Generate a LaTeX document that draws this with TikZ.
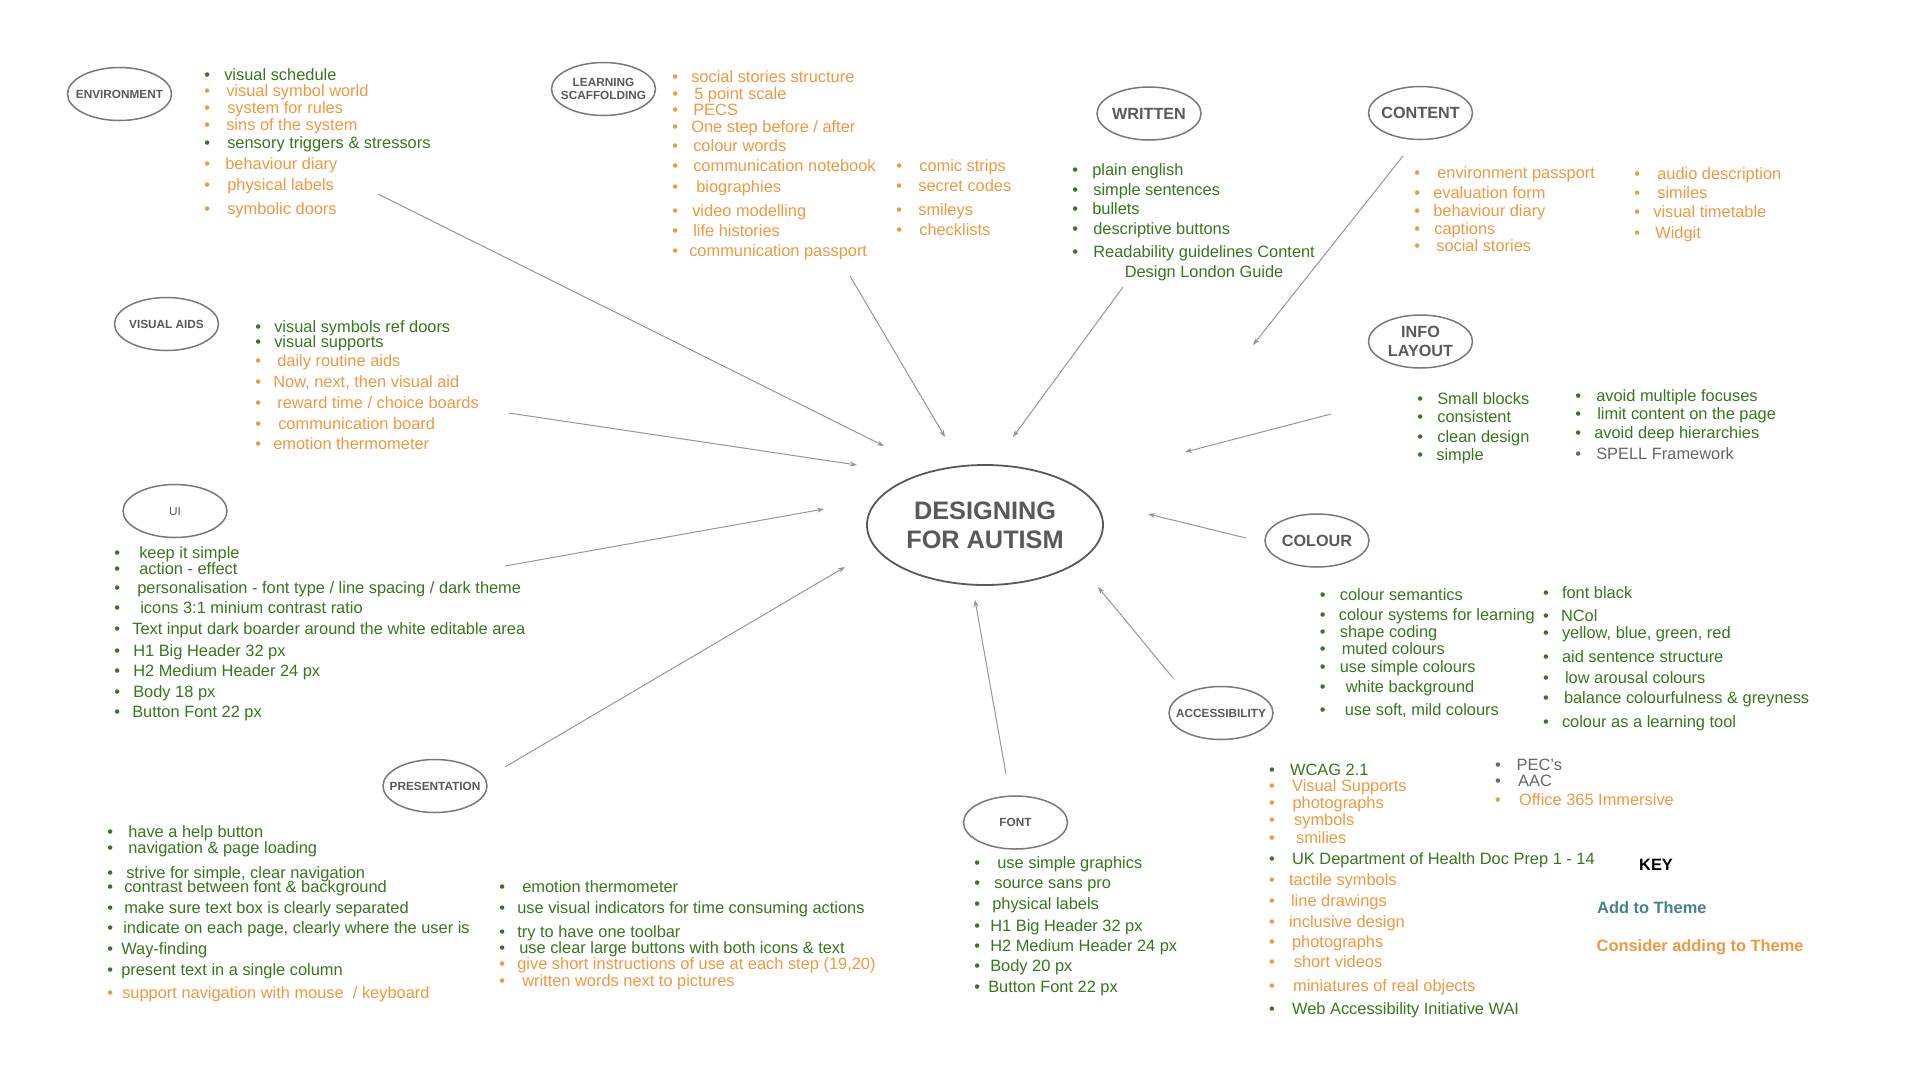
\documentclass[tikz,border=0pt]{standalone}
\usepackage{fontspec}
\setmainfont{Liberation Sans}
\usepackage{xcolor}
\usepackage{tikz}
\usetikzlibrary{positioning, shapes.geometric, arrows.meta}
\definecolor{themegreen}{RGB}{56,118,29}
\definecolor{considerorange}{RGB}{238,152,66}
\definecolor{addteal}{RGB}{69,129,142}
\definecolor{notegray}{RGB}{102,102,102}
\definecolor{labelgray}{RGB}{89,89,89}
\definecolor{ringgray}{RGB}{120,120,120}
\definecolor{arrowgray}{RGB}{150,150,150}
\newcommand{\itemG}[2][0]{\textcolor{themegreen}{\makebox[20pt][l]{\textbullet}\hspace{#1pt}#2}}
\newcommand{\itemO}[2][0]{\textcolor{considerorange}{\makebox[20pt][l]{\textbullet}\hspace{#1pt}#2}}
\newcommand{\itemY}[2][0]{\textcolor{notegray}{\makebox[20pt][l]{\textbullet}\hspace{#1pt}#2}}

\begin{document}
\begin{tikzpicture}[
  x=1pt, y=-1pt, >={Stealth[length=7pt,width=5pt]},
  hub/.style={ellipse, draw=labelgray, line width=1.8pt,
    minimum width=236pt, minimum height=120pt, inner sep=0pt,
    align=center, text=labelgray,
    font=\bfseries\fontsize{25.3}{29}\selectfont},
  theme/.style={ellipse, draw=ringgray, line width=1.5pt,
    minimum width=104pt, minimum height=53pt,
    inner xsep=-10pt, inner ysep=0pt,
    align=center, text=labelgray,
    font=\bfseries\fontsize{11.8}{12.5}\selectfont},
  bigtheme/.style={theme, font=\bfseries\fontsize{16.2}{19}\selectfont},
  lst/.style={anchor=north west, inner sep=0pt, align=left,
    font=\fontsize{16.4}{16.7}\selectfont},
  keytxt/.style={anchor=base west, inner sep=0pt,
    font=\bfseries\fontsize{16.4}{16.7}\selectfont},
  conn/.style={->, draw=arrowgray, line width=1pt}
]
\useasboundingbox (0,0) rectangle (1920,1080);
\fill[white] (0,0) rectangle (1920,1080);

\node[hub] (hub) at (985,525) {DESIGNING\\FOR AUTISM};

\node[theme] (env) at (119.5,94) {ENVIRONMENT};
\node[theme] (learn) at (603.5,89) {LEARNING\\SCAFFOLDING};
\node[bigtheme] (written) at (1149,113.5) {WRITTEN};
\node[bigtheme] (content) at (1420.5,113) {CONTENT};
\node[bigtheme] (info) at (1420.5,341.5) {INFO\\LAYOUT};
\node[theme] (visual) at (166.5,324) {VISUAL AIDS};
\node[theme, font=\fontsize{11.8}{12.5}\selectfont] (ui) at (175,511) {UI};
\node[bigtheme] (colour) at (1317,540.5) {COLOUR};
\node[theme] (access) at (1221,713) {ACCESSIBILITY};
\node[theme] (present) at (435,786) {PRESENTATION};
\node[theme] (font) at (1015.5,822.5) {FONT};

\node[lst] (envlist) at (204.1,68.2)
  {\itemG{visual schedule}\\
   \itemO[2]{visual symbol world}\\
   \itemO[3]{system for rules}\\
   \itemO[2]{sins of the system}\\[1pt]
   \itemG[3]{sensory triggers \& stressors}\\[4.6pt]
   \itemO[1]{behaviour diary}\\[4.3pt]
   \itemO[3]{physical labels}\\[7.3pt]
   \itemO[3]{symbolic doors}};

\node[lst] (learnlist) at (672.1,70.5)
  {\itemO[-1]{social stories structure}\\
   \itemO[2]{5 point scale}\\
   \itemO[1]{PECS}\\[0.3pt]
   \itemO[-1]{One step before / after}\\[1.6pt]
   \itemO[1]{colour words}\\[4pt]
   \itemO[1]{communication notebook}\\[3.9pt]
   \itemO[4]{biographies}\\[7.7pt]
   \itemO{video modelling}\\[2.6pt]
   \itemO[1]{life histories}\\[3.3pt]
   \itemO[-3]{communication passport}};
\node[lst] (learnlist2) at (896.1,159.9)
  {\itemO[3]{comic strips}\\[3.3pt]
   \itemO[2]{secret codes}\\[6.6pt]
   \itemO[2]{smileys}\\[3.3pt]
   \itemO[3]{checklists}};

\node[lst] (writtenlist) at (1072.1,163.2)
  {\itemG{plain english}\\[3.3pt]
   \itemG[1]{simple sentences}\\[2.3pt]
   \itemG{bullets}\\[3.3pt]
   \itemG[1]{descriptive buttons}\\[6.3pt]
   \itemG[1]{\begin{tabular}[t]{@{}c@{}}Readability guidelines Content\\[3.3pt]
     Design London Guide\end{tabular}}};

\node[lst] (contentlist) at (1414.1,166.2)
  {\itemO[3]{environment passport}\\[3.3pt]
   \itemO[-1]{evaluation form}\\[1.3pt]
   \itemO[-1]{behaviour diary}\\[1.3pt]
   \itemO{captions}\\[0.3pt]
   \itemO[2]{social stories}};
\node[lst] (contentlist2) at (1634.1,167.2)
  {\itemO[3]{audio description}\\[2.3pt]
   \itemO[3]{similes}\\[2.3pt]
   \itemO[-1]{visual timetable}\\[4.3pt]
   \itemO[1]{Widgit}};

\node[lst] (infolist) at (1417.1,392.2)
  {\itemG{Small blocks}\\[1.3pt]
   \itemG{consistent}\\[3.3pt]
   \itemG{clean design}\\[1.3pt]
   \itemG[-1]{simple}};
\node[lst] (infolist2) at (1575.1,389.2)
  {\itemG[1]{avoid multiple focuses}\\[1.3pt]
   \itemG[2]{limit content on the page}\\[2.3pt]
   \itemG[-1]{avoid deep hierarchies}\\[4.3pt]
   \itemY[1]{SPELL Framework}};

\node[lst] (visuallist) at (255.1,320.2)
  {\itemG[-1]{visual symbols ref doors}\\[-1.7pt]
   \itemG[-1]{visual supports}\\[2.3pt]
   \itemO[2]{daily routine aids}\\[4.3pt]
   \itemO[-2]{Now, next, then visual aid}\\[4.3pt]
   \itemO[2]{reward time / choice boards}\\[4.3pt]
   \itemO[3]{communication board}\\[3.3pt]
   \itemO[-2]{emotion thermometer}};

\node[lst] (uilist) at (114.1,546.2)
  {\itemG[5]{keep it simple}\\[-0.7pt]
   \itemG[5]{action - effect}\\[2.3pt]
   \itemG[3]{personalisation - font type / line spacing / dark theme}\\[3.3pt]
   \itemG[6]{icons 3:1 minium contrast ratio}\\[4.3pt]
   \itemG[-2]{Text input dark boarder around the white editable area}\\[5.3pt]
   \itemG[-1]{H1 Big Header 32 px}\\[3.3pt]
   \itemG[-1]{H2 Medium Header 24 px}\\[4.3pt]
   \itemG[-1]{Body 18 px}\\[3.3pt]
   \itemG[-2]{Button Font 22 px}};

\node[lst] (presentlist) at (107.1,825.2)
  {\itemG[1]{have a help button}\\[-0.7pt]
   \itemG[1]{navigation \& page loading}\\[8.3pt]
   \itemG[-1]{strive for simple, clear navigation}\\[-2.7pt]
   \itemG[-3]{contrast between font \& background}\\[4.3pt]
   \itemG[-3]{make sure text box is clearly separated}\\[3.3pt]
   \itemG[-4]{indicate on each page, clearly where the user is}\\[4.3pt]
   \itemG[-6]{Way-finding}\\[4.3pt]
   \itemG[-6]{present text in a single column}\\[6.3pt]
   \itemO[-5]{support navigation with mouse~ / keyboard}};
\node[lst] (presentlist2) at (499.1,880.2)
  {\itemG[3]{emotion thermometer}\\[4.3pt]
   \itemG[-2]{use visual indicators for time consuming actions}\\[7.3pt]
   \itemG[-2]{try to have one toolbar}\\[-0.7pt]
   \itemG{use clear large buttons with both icons \& text}\\[-0.7pt]
   \itemO[-2]{give short instructions of use at each step (19,20)}\\[0.3pt]
   \itemO[3]{written words next to pictures}};

\node[lst] (fontlist) at (974.1,856.8)
  {\itemG[3]{use simple graphics}\\[2.7pt]
   \itemG{source sans pro}\\[4.3pt]
   \itemG[-2]{physical labels}\\[5.3pt]
   \itemG[-4]{H1 Big Header 32 px}\\[3.3pt]
   \itemG[-4]{H2 Medium Header 24 px}\\[3.3pt]
   \itemG[-4]{Body 20 px}\\[4.3pt]
   \itemG[-6]{Button Font 22 px}};

\node[lst] (colourlist) at (1319.6,588.2)
  {\itemG{colour semantics}\\[3.3pt]
   \itemG[-1]{colour systems for learning}\\[0.3pt]
   \itemG{shape coding}\\[0.3pt]
   \itemG[2]{muted colours}\\[1.3pt]
   \itemG{use simple colours}\\[3.3pt]
   \itemG[6]{white background}\\[6.3pt]
   \itemG[5]{use soft, mild colours}};
\node[lst] (colourlist2) at (1542.8,586.2)
  {\itemG[-1]{font black}\\[6.3pt]
   \itemG[-2]{NCol}\\[0.3pt]
   \itemG[-1]{yellow, blue, green, red}\\[7.3pt]
   \itemG[-1]{aid sentence structure}\\[4.3pt]
   \itemG[2]{low arousal colours}\\[3.3pt]
   \itemG[1]{balance colourfulness \& greyness}\\[7.3pt]
   \itemG[-1]{colour as a learning tool}};

\node[lst] (acclist) at (1268.9,764.2)
  {\itemG[1]{WCAG 2.1}\\[-0.7pt]
   \itemO[3]{Visual Supports}\\[0.3pt]
   \itemO[3.5]{photographs}\\[0.3pt]
   \itemO[5]{symbols}\\[1.3pt]
   \itemO[7]{smilies}\\[4.3pt]
   \itemG[3]{UK Department of Health Doc Prep 1 - 14}\\[4.3pt]
   \itemO{tactile symbols}\\[4.3pt]
   \itemO[2]{line drawings}\\[4.3pt]
   \itemO{inclusive design}\\[3.3pt]
   \itemO[3]{photographs}\\[3.3pt]
   \itemO[4.7]{short videos}\\[7.3pt]
   \itemO[4]{miniatures of real objects}\\[6.3pt]
   \itemG[3]{Web Accessibility Initiative WAI}};
\node[lst] (acclist2) at (1495,759.2)
  {\itemY[1.5]{PEC’s}\\[-0.7pt]
   \itemY[3]{AAC}\\[2.3pt]
   \itemO[4]{Office 365 Immersive}};

\node[keytxt, text=black] (key) at (1639,870) {KEY};
\node[keytxt, text=addteal] (keyadd) at (1597,913.6) {Add to Theme};
\node[keytxt, text=considerorange] (keyconsider) at (1596.5,951) {Consider adding to Theme};

\coordinate (env-tail) at (378,194);
\coordinate (env-tip) at (884,446);
\coordinate (learn-tail) at (850,276);
\coordinate (learn-tip) at (945,437);
\coordinate (written-tail) at (1123,287);
\coordinate (written-tip) at (1013,437);
\coordinate (content-tail) at (1403,156);
\coordinate (content-tip) at (1253,345);
\coordinate (info-tail) at (1331,414);
\coordinate (info-tip) at (1185,452);
\coordinate (visual-tail) at (509,413);
\coordinate (visual-tip) at (857,465);
\coordinate (ui-tail) at (505,566);
\coordinate (ui-tip) at (824,509);
\coordinate (colour-tail) at (1246,538);
\coordinate (colour-tip) at (1148,514);
\coordinate (present-tail) at (505,767);
\coordinate (present-tip) at (845,567);
\coordinate (font-tail) at (1006,774);
\coordinate (font-tip) at (975,600);
\coordinate (access-tail) at (1173,678);
\coordinate (access-tip) at (1098,587);

\draw[conn] (env-tail) -- (env-tip);
\draw[conn] (learn-tail) -- (learn-tip);
\draw[conn] (written-tail) -- (written-tip);
\draw[conn] (content-tail) -- (content-tip);
\draw[conn] (info-tail) -- (info-tip);
\draw[conn] (visual-tail) -- (visual-tip);
\draw[conn] (ui-tail) -- (ui-tip);
\draw[conn] (colour-tail) -- (colour-tip);
\draw[conn] (present-tail) -- (present-tip);
\draw[conn] (font-tail) -- (font-tip);
\draw[conn] (access-tail) -- (access-tip);
\end{tikzpicture}
\end{document}
